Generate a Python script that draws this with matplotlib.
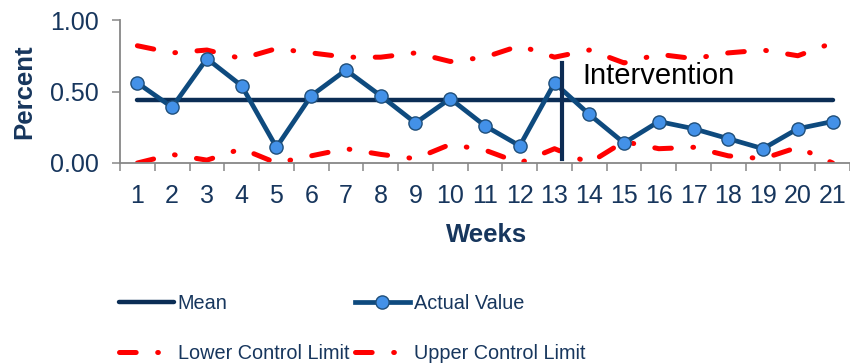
import matplotlib
matplotlib.use("Agg")
import matplotlib.pyplot as plt
from matplotlib import font_manager

weeks = list(range(1, 22))
actual = [0.56, 0.39, 0.73, 0.54, 0.11, 0.47, 0.65, 0.47, 0.28, 0.45, 0.26,
          0.12, 0.56, 0.34, 0.14, 0.29, 0.24, 0.17, 0.10, 0.24, 0.29]
mean = [0.44] * 21
ucl = [0.82, 0.77, 0.79, 0.73, 0.80, 0.77, 0.74, 0.74, 0.77, 0.71, 0.74,
       0.82, 0.74, 0.79, 0.70, 0.76, 0.73, 0.77, 0.79, 0.75, 0.84]
lcl = [0.00, 0.06, 0.02, 0.10, 0.00, 0.05, 0.10, 0.06, 0.03, 0.13, 0.09,
       0.00, 0.10, 0.00, 0.15, 0.10, 0.11, 0.05, 0.03, 0.11, 0.00]
yticks = [0.0, 0.5, 1.0]

navy = "#17365D"
grey = "#878787"

plt.rcParams["font.family"] = ["Liberation Sans", "DejaVu Sans"]
plt.rcParams["lines.scale_dashes"] = False

# legend text in the original is a condensed face
try:
    font_manager.findfont("Liberation Sans Narrow", fallback_to_default=False)
    leg_font = {"family": "Liberation Sans Narrow", "size": 16.5}
except Exception:
    leg_font = {"family": "Liberation Sans", "size": 14.3}

fig = plt.figure(figsize=(8.5, 3.64), dpi=100)
W, H = 850, 364
x0, x1, ytop, ybot = 120, 850, 20, 163
ax = fig.add_axes([x0 / W, 1 - ybot / H, (x1 - x0) / W, (ybot - ytop) / H])

lim_style = dict(color="#FF0000", lw=3.6, dashes=(12, 15.5, 0.5, 15.5),
                 dash_capstyle="round", solid_capstyle="round")
l_lcl, = ax.plot(weeks, lcl, label="Lower Control Limit", **lim_style)
l_ucl, = ax.plot(weeks, ucl, label="Upper Control Limit", **lim_style)
l_mean, = ax.plot(weeks, mean, color="#0B2D55", lw=3.2, solid_capstyle="round",
                  label="Mean")
l_act, = ax.plot(weeks, actual, color="#0E4A7E", lw=3.4, marker="o", ms=9.5,
                 mfc="#4391E8", mec="#1F4E79", mew=1.0, label="Actual Value")

# intervention marker
ax.plot([13.21, 13.21], [0.03, 0.70], color="#0D2C54", lw=3.0, zorder=5)
ax.text(13.8, 0.61, "Intervention", fontsize=21, color="black", va="center",
        ha="left")

ax.set_ylim(0, 1)
ax.set_xlim(0.5, 0.5 + (x1 - x0) / 35.0)
ax.set_yticks(yticks)
ax.set_yticklabels(["%.2f" % v for v in yticks])
ax.set_xticks([i + 0.5 for i in range(0, 22)])
ax.set_xticklabels([])
ax.set_xticks(weeks, minor=True)
ax.set_xticklabels([str(w) for w in weeks], minor=True)
ax.tick_params(axis="x", which="major", length=6, width=1.1, color=grey,
               direction="out")
ax.tick_params(axis="x", which="minor", length=0, pad=15, labelsize=18,
               labelcolor=navy)
ax.tick_params(axis="y", length=6, width=1.1, color=grey, pad=9,
               labelsize=18, labelcolor=navy)

for s in ["top", "right"]:
    ax.spines[s].set_visible(False)
for s in ["left", "bottom"]:
    ax.spines[s].set_color(grey)
    ax.spines[s].set_linewidth(1.3)

ax.set_xlabel("Weeks", fontsize=18.5, fontweight="bold", color=navy)
ax.set_ylabel("Percent", fontsize=18.5, fontweight="bold", color=navy,
              labelpad=10)
ax.xaxis.set_label_coords((487 - x0) / (x1 - x0), -0.42)

leg = fig.legend([l_mean, l_lcl, l_act, l_ucl],
                 ["Mean", "Lower Control Limit", "Actual Value",
                  "Upper Control Limit"],
                 ncol=2, loc="upper left", bbox_to_anchor=(119 / W, 1 - 294 / H),
                 frameon=False, prop=leg_font, handlelength=2.75,
                 handletextpad=0.2, columnspacing=0.3, labelspacing=1.55,
                 borderpad=0, borderaxespad=0)
for t in leg.get_texts():
    t.set_color(navy)

fig.savefig("out.png", dpi=100)
